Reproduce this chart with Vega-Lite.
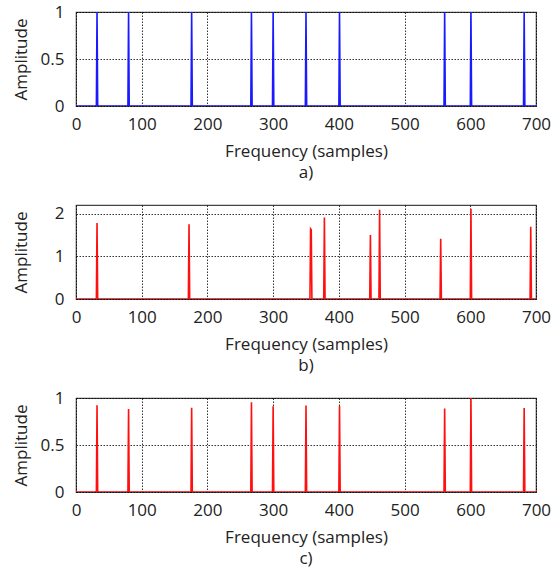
{
  "$schema": "https://vega.github.io/schema/vega-lite/v6.json",
  "padding": {"left": 11, "top": 2, "right": 5, "bottom": 2},
  "spacing": 99,
  "bounds": "flush",
  "datasets": {
    "a": [
      {"f": 0, "amp": 0},
      {"f": 31, "amp": 0}, {"f": 32, "amp": 1}, {"f": 33, "amp": 0},
      {"f": 79, "amp": 0}, {"f": 80, "amp": 1}, {"f": 81, "amp": 0},
      {"f": 175, "amp": 0}, {"f": 176, "amp": 1}, {"f": 177, "amp": 0},
      {"f": 266, "amp": 0}, {"f": 267, "amp": 1}, {"f": 268, "amp": 0},
      {"f": 299, "amp": 0}, {"f": 300, "amp": 1}, {"f": 301, "amp": 0},
      {"f": 349, "amp": 0}, {"f": 350, "amp": 1}, {"f": 351, "amp": 0},
      {"f": 400, "amp": 0}, {"f": 401, "amp": 1}, {"f": 402, "amp": 0},
      {"f": 560, "amp": 0}, {"f": 561, "amp": 1}, {"f": 562, "amp": 0},
      {"f": 600, "amp": 0}, {"f": 601, "amp": 1}, {"f": 602, "amp": 0},
      {"f": 681, "amp": 0}, {"f": 682, "amp": 1}, {"f": 683, "amp": 0},
      {"f": 700, "amp": 0}
    ],
    "b": [
      {"f": 0, "amp": 0},
      {"f": 31, "amp": 0}, {"f": 32, "amp": 1.78}, {"f": 33, "amp": 0},
      {"f": 171, "amp": 0}, {"f": 172, "amp": 1.75}, {"f": 173, "amp": 0},
      {"f": 356, "amp": 0}, {"f": 357, "amp": 1.64}, {"f": 358, "amp": 1.62}, {"f": 359, "amp": 0},
      {"f": 377, "amp": 0}, {"f": 378, "amp": 1.91}, {"f": 379, "amp": 0},
      {"f": 447, "amp": 0}, {"f": 448, "amp": 1.5}, {"f": 449, "amp": 0},
      {"f": 461, "amp": 0}, {"f": 462, "amp": 2.09}, {"f": 463, "amp": 0},
      {"f": 554, "amp": 0}, {"f": 555, "amp": 1.41}, {"f": 556, "amp": 0},
      {"f": 600, "amp": 0}, {"f": 601, "amp": 2.11}, {"f": 602, "amp": 0},
      {"f": 691, "amp": 0}, {"f": 692, "amp": 1.69}, {"f": 693, "amp": 0},
      {"f": 700, "amp": 0}
    ],
    "c": [
      {"f": 0, "amp": 0},
      {"f": 31, "amp": 0}, {"f": 32, "amp": 0.922}, {"f": 33, "amp": 0},
      {"f": 79, "amp": 0}, {"f": 80, "amp": 0.883}, {"f": 81, "amp": 0},
      {"f": 175, "amp": 0}, {"f": 176, "amp": 0.897}, {"f": 177, "amp": 0},
      {"f": 266, "amp": 0}, {"f": 267, "amp": 0.954}, {"f": 268, "amp": 0},
      {"f": 299, "amp": 0}, {"f": 300, "amp": 0.912}, {"f": 301, "amp": 0},
      {"f": 349, "amp": 0}, {"f": 350, "amp": 0.919}, {"f": 351, "amp": 0},
      {"f": 400, "amp": 0}, {"f": 401, "amp": 0.915}, {"f": 402, "amp": 0},
      {"f": 560, "amp": 0}, {"f": 561, "amp": 0.887}, {"f": 562, "amp": 0},
      {"f": 600, "amp": 0}, {"f": 601, "amp": 1.0}, {"f": 602, "amp": 0},
      {"f": 681, "amp": 0}, {"f": 682, "amp": 0.894}, {"f": 683, "amp": 0},
      {"f": 700, "amp": 0}
    ]
  },
  "vconcat": [
    {
      "width": 460, "height": 94,
      "title": "a)",
      "data": {"name": "a"},
      "mark": {"type": "line", "color": "#1a1aff", "strokeWidth": 1.6, "clip": true},
      "encoding": {
        "x": {"field": "f", "type": "quantitative", "scale": {"domain": [0, 700], "nice": false}, "axis": {"values": [0, 100, 200, 300, 400, 500, 600, 700], "title": "Frequency (samples)"}},
        "y": {"field": "amp", "type": "quantitative", "scale": {"domain": [0, 1], "nice": false}, "axis": {"values": [0, 0.5, 1], "format": "~g", "title": "Amplitude"}}
      }
    },
    {
      "width": 460, "height": 94,
      "title": "b)",
      "data": {"name": "b"},
      "mark": {"type": "line", "color": "#ff1010", "strokeWidth": 1.6, "clip": true},
      "encoding": {
        "x": {"field": "f", "type": "quantitative", "scale": {"domain": [0, 700], "nice": false}, "axis": {"values": [0, 100, 200, 300, 400, 500, 600, 700], "title": "Frequency (samples)"}},
        "y": {"field": "amp", "type": "quantitative", "scale": {"domain": [0, 2.2], "nice": false}, "axis": {"values": [0, 1, 2], "format": "~g", "title": "Amplitude"}}
      }
    },
    {
      "width": 460, "height": 94,
      "title": "c)",
      "data": {"name": "c"},
      "mark": {"type": "line", "color": "#ff1010", "strokeWidth": 1.6, "clip": true},
      "encoding": {
        "x": {"field": "f", "type": "quantitative", "scale": {"domain": [0, 700], "nice": false}, "axis": {"values": [0, 100, 200, 300, 400, 500, 600, 700], "title": "Frequency (samples)"}},
        "y": {"field": "amp", "type": "quantitative", "scale": {"domain": [0, 1], "nice": false}, "axis": {"values": [0, 0.5, 1], "format": "~g", "title": "Amplitude"}}
      }
    }
  ],
  "config": {
    "font": "Open Sans",
    "view": {"stroke": "#444", "strokeWidth": 1.2},
    "axis": {
      "domain": false,
      "ticks": false,
      "labelFlush": false,
      "labelOverlap": false,
      "labelFont": "Open Sans",
      "titleFont": "Open Sans",
      "labelFontSize": 17,
      "titleFontSize": 17,
      "titleFontWeight": "normal",
      "labelColor": "#222",
      "titleColor": "#222",
      "gridColor": "#000",
      "gridOpacity": 1,
      "gridWidth": 0.8,
      "gridDash": [1.5, 1.5]
    },
    "axisX": {"labelPadding": 10, "titlePadding": 11},
    "axisY": {"labelPadding": 12, "titleX": -55, "titleY": 47, "titleAnchor": "middle", "titleBaseline": "middle", "titleAngle": 270},
    "title": {"orient": "bottom", "fontSize": 17, "fontWeight": "normal", "font": "Open Sans", "color": "#222", "offset": 6}
  }
}
